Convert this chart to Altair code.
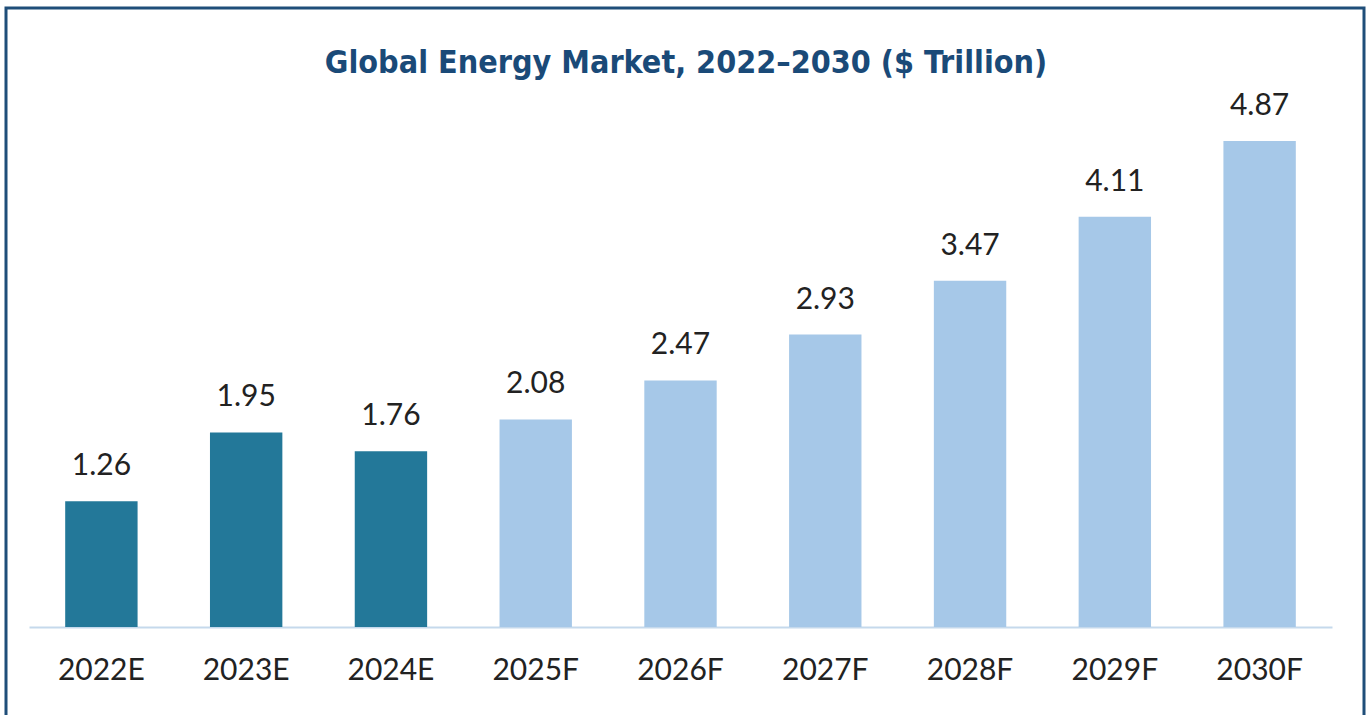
import altair as alt
import pandas as pd

years = ["2022E", "2023E", "2024E", "2025F", "2026F", "2027F", "2028F", "2029F", "2030F"]
values = [1.26, 1.95, 1.76, 2.08, 2.47, 2.93, 3.47, 4.11, 4.87]
kind = ["E", "E", "E", "F", "F", "F", "F", "F", "F"]
title_text = "Global Energy Market, 2022–2030 ($ Trillion)"

df = pd.DataFrame({"year": years, "value": values, "kind": kind})
df["label"] = [f"{v:.2f}" for v in values]

W, H = 1303, 519
LABEL_FONT = "Lato"

base = alt.Chart(df).encode(
    x=alt.X("year:N", sort=years, title=None,
            scale=alt.Scale(paddingInner=0.5, paddingOuter=0.25),
            axis=alt.Axis(labelAngle=0, ticks=False, domain=True, domainColor="#c5d9ec",
                          domainWidth=2, labelFont=LABEL_FONT, labelFontSize=30,
                          labelColor="#222222", labelBaseline="middle", labelPadding=43,
                          grid=False)),
    y=alt.Y("value:Q", title=None, scale=alt.Scale(domain=[0, 5.2], nice=False),
            axis=None),
)

bars = base.mark_bar().encode(
    color=alt.Color("kind:N", scale=alt.Scale(domain=["E", "F"], range=["#237899", "#a6c8e8"]),
                    legend=None)
)

labels = base.mark_text(baseline="alphabetic", dy=-26, font=LABEL_FONT, fontSize=30,
                        color="#222222").encode(text="label:N")

one = pd.DataFrame({"t": [title_text]})

frame = alt.Chart(one).mark_rect(
    fill=None, stroke="#1f4e79", strokeWidth=3
).encode(x=alt.value(-23), x2=alt.value(1335), y=alt.value(-100), y2=alt.value(620))

title = alt.Chart(one).mark_text(
    font="Liberation Sans Narrow, DejaVu Sans Condensed, Roboto",
    fontSize=32, fontWeight="bold", color="#1a4a78",
    align="center", baseline="alphabetic",
).encode(x=alt.value(657), y=alt.value(-35), text="t:N")

chart = alt.layer(frame, bars, labels, title).properties(
    width=W, height=H,
    autosize=alt.AutoSizeParams(type="none"),
    padding={"left": 29, "right": 39, "top": 108, "bottom": 88},
    background="white",
).configure_view(strokeWidth=0, stroke=None)

chart.save("out.html", embed_options={"renderer": "svg", "actions": False})
